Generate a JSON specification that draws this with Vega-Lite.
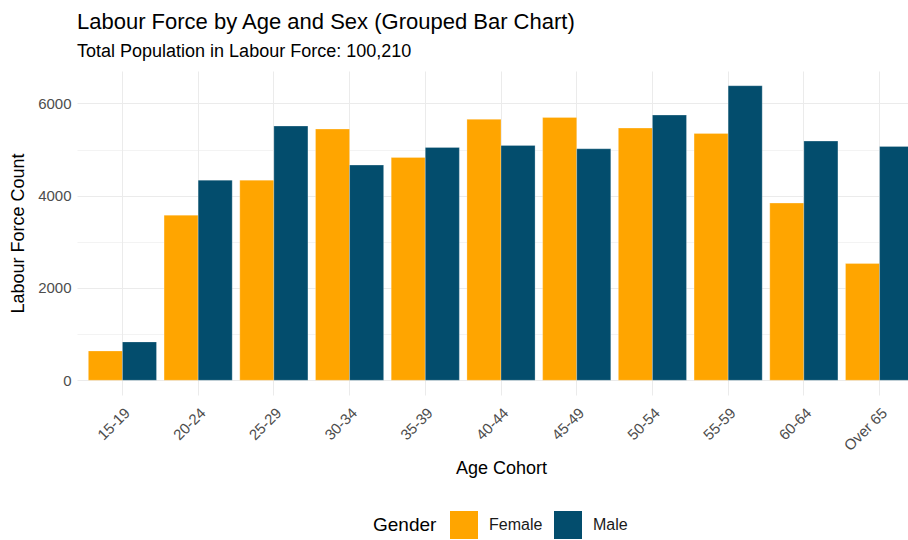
{
  "$schema": "https://vega.github.io/schema/vega-lite/v6.json",
  "autosize": "none",
  "width": 831,
  "height": 324,
  "padding": {"left": 77, "top": 71, "right": 0, "bottom": 145},
  "background": "white",
  "config": {
    "font": "Liberation Sans",
    "view": {"stroke": null},
    "axis": {"domain": false, "ticks": false, "gridColor": "#EBEBEB", "labelColor": "#4D4D4D", "labelFont": "Liberation Sans", "titleFont": "Liberation Sans", "titleFontWeight": "normal", "titleColor": "#000000"}
  },
  "title": {
    "text": "Labour Force by Age and Sex (Grouped Bar Chart)",
    "subtitle": "Total Population in Labour Force: 100,210",
    "anchor": "start",
    "frame": "group",
    "fontSize": 22,
    "fontWeight": "normal",
    "color": "#000000",
    "subtitleFontSize": 18,
    "subtitleColor": "#000000",
    "subtitlePadding": 9,
    "offset": 9
  },
  "data": {
    "values": [
      {"age": "15-19", "gender": "Female", "count": 635},
      {"age": "15-19", "gender": "Male", "count": 831},
      {"age": "20-24", "gender": "Female", "count": 3578},
      {"age": "20-24", "gender": "Male", "count": 4337},
      {"age": "25-29", "gender": "Female", "count": 4337},
      {"age": "25-29", "gender": "Male", "count": 5509},
      {"age": "30-34", "gender": "Female", "count": 5444},
      {"age": "30-34", "gender": "Male", "count": 4663},
      {"age": "35-39", "gender": "Female", "count": 4829},
      {"age": "35-39", "gender": "Male", "count": 5046},
      {"age": "40-44", "gender": "Female", "count": 5654},
      {"age": "40-44", "gender": "Male", "count": 5090},
      {"age": "45-49", "gender": "Female", "count": 5697},
      {"age": "45-49", "gender": "Male", "count": 5017},
      {"age": "50-54", "gender": "Female", "count": 5465},
      {"age": "50-54", "gender": "Male", "count": 5747},
      {"age": "55-59", "gender": "Female", "count": 5350},
      {"age": "55-59", "gender": "Male", "count": 6383},
      {"age": "60-64", "gender": "Female", "count": 3839},
      {"age": "60-64", "gender": "Male", "count": 5183},
      {"age": "Over 65", "gender": "Female", "count": 2530},
      {"age": "Over 65", "gender": "Male", "count": 5068}
    ]
  },
  "mark": {"type": "bar", "clip": true, "stroke": "#ffffff", "strokeOpacity": 0.5, "strokeWidth": 0.5},
  "encoding": {
    "x": {
      "field": "age",
      "type": "nominal",
      "sort": null,
      "scale": {"range": [0, 848], "paddingInner": 0.1, "paddingOuter": 0.15},
      "axis": {
        "title": "Age Cohort",
        "titleFontSize": 18,
        "titlePadding": 6,
        "labelAngle": -45,
        "labelAlign": "right",
        "labelBaseline": "top",
        "labelFontSize": 15,
        "labelPadding": 10,
        "grid": true,
        "bandPosition": 0.5,
        "gridWidth": 1
      }
    },
    "xOffset": {"field": "gender", "type": "nominal", "scale": {"paddingInner": 0, "paddingOuter": 0}},
    "y": {
      "field": "count",
      "type": "quantitative",
      "scale": {"domain": [-319, 6702], "nice": false, "zero": false},
      "axis": {
        "title": "Labour Force Count",
        "titleFontSize": 18,
        "titlePadding": 10,
        "labelFontSize": 15,
        "labelPadding": 6,
        "format": "d",
        "values": [0, 1000, 2000, 3000, 4000, 5000, 6000],
        "labelExpr": "datum.value % 2000 === 0 ? datum.label : ''",
        "gridWidth": {"condition": {"test": "datum.value % 2000 === 0", "value": 1}, "value": 0.6}
      }
    },
    "y2": {"datum": 0},
    "color": {
      "field": "gender",
      "type": "nominal",
      "scale": {"domain": ["Female", "Male"], "range": ["#FFA500", "#034D6D"]},
      "legend": {
        "title": "Gender",
        "orient": "none",
        "direction": "horizontal",
        "legendX": 296,
        "legendY": 440,
        "titleOrient": "left",
        "titleFontSize": 19,
        "titleFontWeight": "normal",
        "titleColor": "#000000",
        "titleAnchor": "middle",
        "titleBaseline": "middle",
        "titlePadding": 13,
        "labelFontSize": 16,
        "labelColor": "#1A1A1A",
        "labelOffset": 11,
        "symbolType": "square",
        "symbolSize": 784,
        "symbolStrokeWidth": 0,
        "columnPadding": 11,
        "labelLimit": 200
      }
    }
  }
}
